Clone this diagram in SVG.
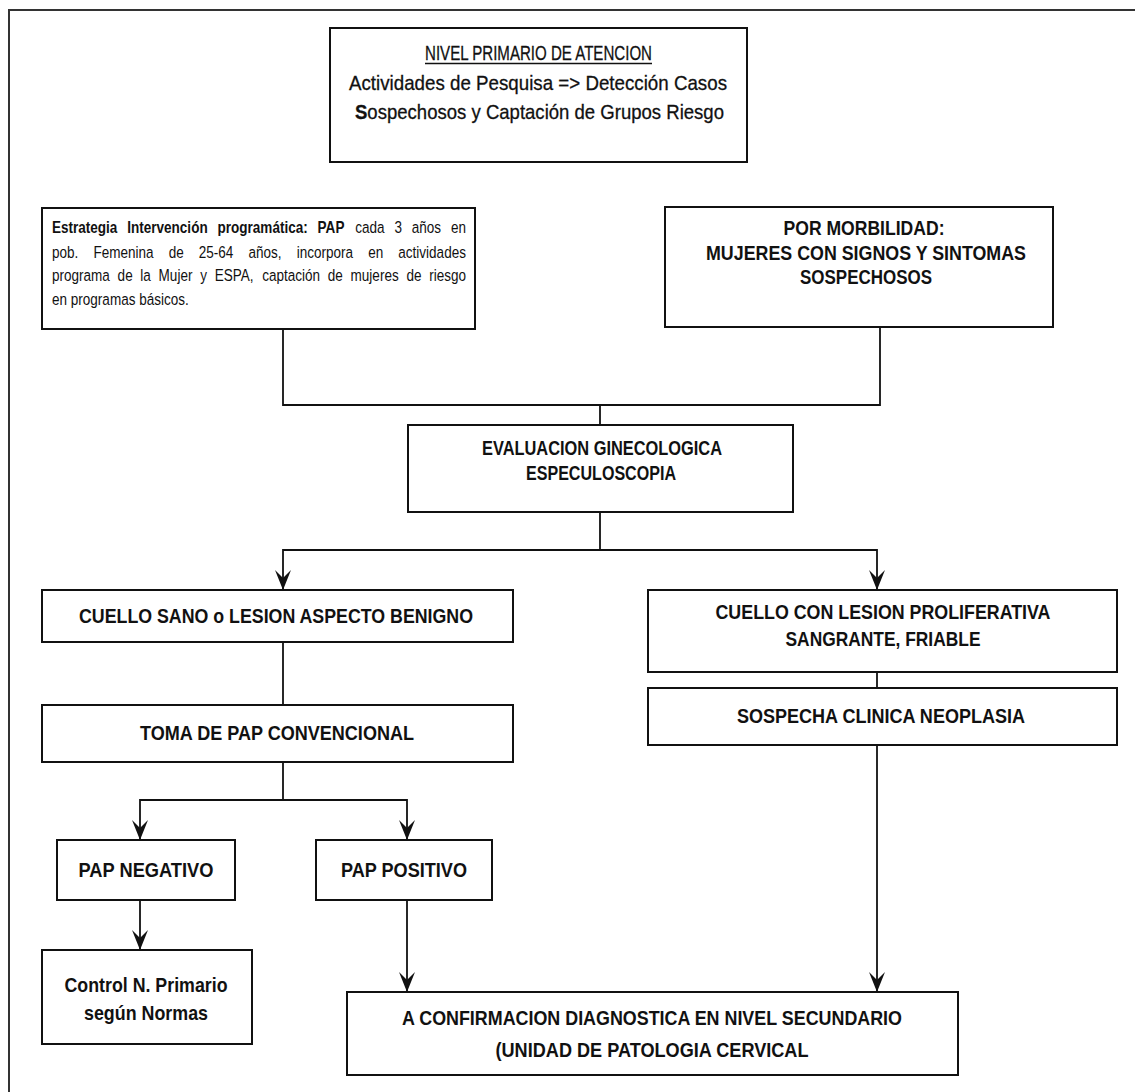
<svg xmlns="http://www.w3.org/2000/svg" width="1135" height="1092" viewBox="0 0 1135 1092">
<defs>
  <marker id="arrow" viewBox="0 -9 21 18" refX="20" refY="0" markerWidth="21" markerHeight="18" markerUnits="userSpaceOnUse" orient="auto">
    <path d="M20,0 L0,-8 L8,0 L0,8 Z" fill="#111"/>
  </marker>
  <style>
    .frame{fill:none;stroke:#333;stroke-width:2}
    .box{fill:#fff;stroke:#111;stroke-width:2}
    .link{fill:none;stroke:#111;stroke-width:1.8}
    .arr{marker-end:url(#arrow)}
    .lbl{font-family:"Liberation Sans Narrow","Arial Narrow","Liberation Sans",sans-serif;font-weight:bold;font-size:21px;fill:#111;text-anchor:middle}
    .ttl{font-family:"Liberation Sans Narrow","Arial Narrow","Liberation Sans",sans-serif;font-size:21px;fill:#111;stroke:#111;stroke-width:0.3;text-anchor:middle}
    .body{font-family:"Liberation Sans",Arial,sans-serif;font-size:16.5px;fill:#111}
    .b{font-weight:bold}
  </style>
</defs>

<rect width="1135" height="1092" fill="#fff"/>
<!-- page frame, running off the right and bottom edges -->
<rect class="frame" x="9" y="10" width="1140" height="1100"/>

<g id="connectors">
  <path class="link" d="M283,329 V405 H880 V327"/>
  <path class="link" d="M600,405 V425"/>
  <path class="link arr" d="M600,512 V550 H283 V590"/>
  <path class="link arr" d="M600,550 H877 V590"/>
  <path class="link" d="M283,642 V705"/>
  <path class="link" d="M877,672 V688"/>
  <path class="link arr" d="M283,762 V800 H140 V840"/>
  <path class="link arr" d="M283,800 H407 V840"/>
  <path class="link arr" d="M140,900 V950"/>
  <path class="link arr" d="M407,900 V992"/>
  <path class="link arr" d="M877,745 V992"/>
</g>

<g id="nivel-primario">
  <rect class="box" x="330" y="28" width="417" height="134"/>
  <text class="ttl" x="538.5" y="60" font-size="20" stroke-width="0" textLength="227" lengthAdjust="spacingAndGlyphs">NIVEL PRIMARIO DE ATENCION</text>
  <line x1="425" y1="63.5" x2="652" y2="63.5" stroke="#111" stroke-width="1.4"/>
  <text class="ttl" x="538" y="90" textLength="378" lengthAdjust="spacingAndGlyphs">Actividades de Pesquisa =&gt; Detección Casos</text>
  <text class="ttl" x="539.5" y="119" textLength="369" lengthAdjust="spacingAndGlyphs"><tspan class="b">S</tspan>ospechosos y Captación de Grupos Riesgo</text>
</g>

<g id="estrategia">
  <rect class="box" x="42" y="208" width="433" height="121"/>
  <g transform="scale(0.82 1)">
    <text class="body" y="233"><tspan class="b" x="63.41">Estrategia</tspan><tspan class="b" x="155.2">Intervención</tspan><tspan class="b" x="265.3">programática:</tspan><tspan class="b" x="387.33">PAP</tspan><tspan x="433.26">cada</tspan><tspan x="481.02">3</tspan><tspan x="502.2">años</tspan><tspan x="549.96">en</tspan></text>
    <text class="body" y="258"><tspan x="63.41">pob.</tspan><tspan x="113.93">Femenina</tspan><tspan x="205.68">de</tspan><tspan x="242.44">25-64</tspan><tspan x="303.04">años,</tspan><tspan x="361.79">incorpora</tspan><tspan x="448.96">en</tspan><tspan x="485.72">actividades</tspan></text>
    <text class="body" y="281"><tspan x="63.41">programa</tspan><tspan x="143.43">de</tspan><tspan x="171.18">la</tspan><tspan x="193.43">Mujer</tspan><tspan x="244.09">y</tspan><tspan x="261.74">ESPA,</tspan><tspan x="319.76">captación</tspan><tspan x="399.78">de</tspan><tspan x="427.54">mujeres</tspan><tspan x="495.61">de</tspan><tspan x="523.37">riesgo</tspan></text>
    <text class="body" x="63.41" y="305">en programas básicos.</text>
  </g>
</g>

<g id="morbilidad">
  <rect class="box" x="665" y="207" width="388" height="120"/>
  <text class="lbl" x="864" y="235" textLength="161" lengthAdjust="spacingAndGlyphs">POR MORBILIDAD:</text>
  <text class="lbl" x="866" y="260" textLength="320" lengthAdjust="spacingAndGlyphs">MUJERES CON SIGNOS Y SINTOMAS</text>
  <text class="lbl" x="866" y="284" textLength="132" lengthAdjust="spacingAndGlyphs">SOSPECHOSOS</text>
</g>

<g id="evaluacion">
  <rect class="box" x="408" y="425" width="385" height="87"/>
  <text class="lbl" x="602" y="455" textLength="240" lengthAdjust="spacingAndGlyphs">EVALUACION GINECOLOGICA</text>
  <text class="lbl" x="601" y="480" textLength="150" lengthAdjust="spacingAndGlyphs">ESPECULOSCOPIA</text>
</g>

<g id="cuello-sano">
  <rect class="box" x="42" y="590" width="471" height="52"/>
  <text class="lbl" x="276" y="623" textLength="394" lengthAdjust="spacingAndGlyphs">CUELLO SANO o LESION ASPECTO BENIGNO</text>
</g>

<g id="cuello-lesion">
  <rect class="box" x="648" y="590" width="469" height="82"/>
  <text class="lbl" x="883" y="619" textLength="335" lengthAdjust="spacingAndGlyphs">CUELLO CON LESION PROLIFERATIVA</text>
  <text class="lbl" x="883" y="646" textLength="195" lengthAdjust="spacingAndGlyphs">SANGRANTE, FRIABLE</text>
</g>

<g id="toma-pap">
  <rect class="box" x="42" y="705" width="471" height="57"/>
  <text class="lbl" x="277" y="740" textLength="274" lengthAdjust="spacingAndGlyphs">TOMA DE PAP CONVENCIONAL</text>
</g>

<g id="sospecha">
  <rect class="box" x="648" y="688" width="469" height="57"/>
  <text class="lbl" x="881" y="723" textLength="288" lengthAdjust="spacingAndGlyphs">SOSPECHA CLINICA NEOPLASIA</text>
</g>

<g id="pap-negativo">
  <rect class="box" x="57" y="840" width="178" height="60"/>
  <text class="lbl" x="146" y="877" textLength="135" lengthAdjust="spacingAndGlyphs">PAP NEGATIVO</text>
</g>

<g id="pap-positivo">
  <rect class="box" x="316" y="840" width="176" height="60"/>
  <text class="lbl" x="404" y="877" textLength="126" lengthAdjust="spacingAndGlyphs">PAP POSITIVO</text>
</g>

<g id="control">
  <rect class="box" x="42" y="950" width="210" height="94"/>
  <text class="lbl" x="146" y="992" textLength="163" lengthAdjust="spacingAndGlyphs">Control N. Primario</text>
  <text class="lbl" x="146" y="1020" textLength="124" lengthAdjust="spacingAndGlyphs">según Normas</text>
</g>

<g id="confirmacion">
  <rect class="box" x="347" y="992" width="611" height="83"/>
  <text class="lbl" x="652" y="1025" textLength="500" lengthAdjust="spacingAndGlyphs">A CONFIRMACION DIAGNOSTICA EN NIVEL SECUNDARIO</text>
  <text class="lbl" x="652" y="1057" textLength="313" lengthAdjust="spacingAndGlyphs">(UNIDAD DE PATOLOGIA CERVICAL</text>
</g>
</svg>
